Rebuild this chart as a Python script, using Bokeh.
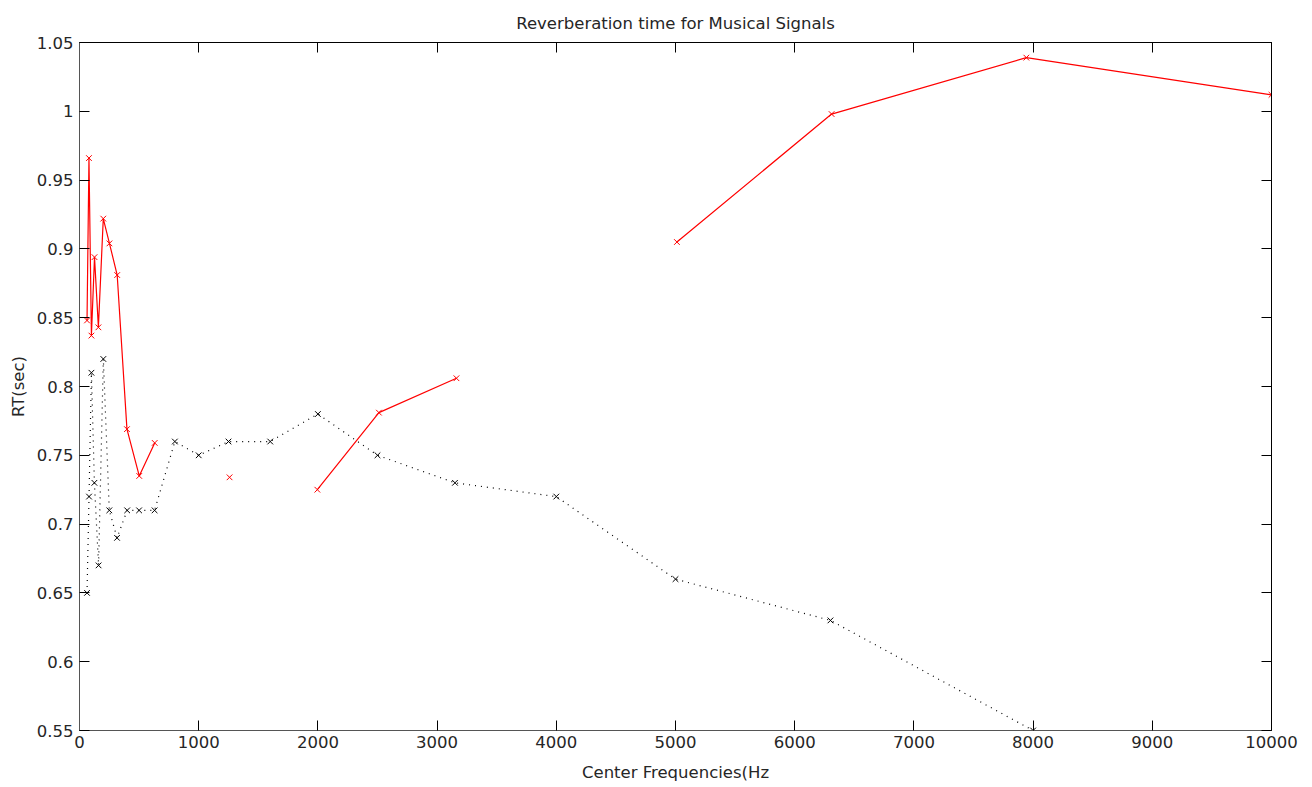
import numpy as np
from bokeh.plotting import figure
from bokeh.models import Range1d, LinearAxis, FixedTicker, ColumnDataSource
from bokeh.embed import file_html
from bokeh.resources import INLINE

# Nominal 1/3-octave centre frequencies (black series)
freq_nominal = [63, 80, 100, 125, 160, 200, 250, 315, 400, 500, 630, 800, 1000,
                1250, 1600, 2000, 2500, 3150, 4000, 5000, 6300, 8000]
rt_black = [0.65, 0.72, 0.81, 0.73, 0.67, 0.82, 0.71, 0.69, 0.71, 0.71, 0.71, 0.76, 0.75,
            0.76, 0.76, 0.78, 0.75, 0.73, 0.72, 0.66, 0.63, 0.55]

# Exact 1/3-octave centre frequencies (red series)
freq_exact = [63.1, 79.4, 100.0, 125.9, 158.5, 199.5, 251.2, 316.2, 398.1, 501.2, 631.0,
              794.3, 1000.0, 1258.9, 1584.9, 1995.3, 2511.9, 3162.3, 3981.1, 5011.9,
              6309.6, 7943.3, 10000.0]
rt_red = [0.848, 0.966, 0.837, 0.894, 0.843, 0.922, 0.904, 0.881, 0.769, 0.735, 0.759,
          np.nan, np.nan, 0.734, np.nan, 0.725, 0.781, 0.806, np.nan, 0.905,
          0.998, 1.039, 1.012]

x_ticks = [0, 1000, 2000, 3000, 4000, 5000, 6000, 7000, 8000, 9000, 10000]
y_ticks = [0.55, 0.6, 0.65, 0.7, 0.75, 0.8, 0.85, 0.9, 0.95, 1.0, 1.05]
y_tick_labels = ["0.55", "0.6", "0.65", "0.7", "0.75", "0.8", "0.85", "0.9", "0.95", "1", "1.05"]

FONT = "DejaVu Sans"
FS = "16.5px"
TXT = "#262626"

p = figure(width=1312, height=787, output_backend="svg", toolbar_location=None,
           x_range=Range1d(0, 10000), y_range=Range1d(0.55, 1.05),
           min_border_left=79, min_border_right=41, min_border_top=42, min_border_bottom=57,
           title="Reverberation time for Musical Signals")
p.title.align = "center"
p.title.text_font = FONT
p.title.text_font_size = FS
p.title.text_font_style = "normal"
p.title.text_color = TXT
p.title.standoff = 19

p.xgrid.visible = False
p.ygrid.visible = False
p.outline_line_color = "black"
p.outline_line_width = 1
p.background_fill_color = "white"
p.border_fill_color = "white"

src_b = ColumnDataSource(dict(x=freq_nominal, y=rt_black))
src_r = ColumnDataSource(dict(x=freq_exact, y=rt_red))

p.line("x", "y", source=src_b, line_color="black", line_width=1.2, line_dash="1 5")
p.scatter("x", "y", source=src_b, marker="x", size=8, line_color="black", line_width=1)

p.line("x", "y", source=src_r, line_color="#ff0000", line_width=1.2)
p.scatter("x", "y", source=src_r, marker="x", size=8, line_color="#ff0000", line_width=1)

xt = FixedTicker(ticks=x_ticks, minor_ticks=[])
yt = FixedTicker(ticks=y_ticks, minor_ticks=[])

for ax in (p.xaxis[0], p.yaxis[0]):
    ax.major_tick_in = 10
    ax.major_tick_out = 0
    ax.minor_tick_in = 0
    ax.minor_tick_out = 0
    ax.major_label_text_font = FONT
    ax.major_label_text_font_size = FS
    ax.major_label_text_color = TXT
    ax.axis_label_text_font = FONT
    ax.axis_label_text_font_size = FS
    ax.axis_label_text_font_style = "normal"
    ax.axis_label_text_color = TXT
    ax.axis_line_color = "#555555"

p.xaxis[0].ticker = xt
p.yaxis[0].ticker = yt
p.yaxis[0].major_label_overrides = {v: s for v, s in zip(y_ticks, y_tick_labels)}
p.xaxis[0].axis_label = "Center Frequencies(Hz"
p.yaxis[0].axis_label = "RT(sec)"
p.xaxis[0].major_label_standoff = 5
p.xaxis[0].axis_label_standoff = 12
p.yaxis[0].major_label_standoff = 6
p.yaxis[0].axis_label_standoff = 6

top = LinearAxis(ticker=FixedTicker(ticks=x_ticks, minor_ticks=[]))
right = LinearAxis(ticker=FixedTicker(ticks=y_ticks, minor_ticks=[]))
for ax in (top, right):
    ax.major_tick_in = 10
    ax.major_tick_out = 0
    ax.minor_tick_in = 0
    ax.minor_tick_out = 0
    ax.major_label_text_font_size = "0px"
    ax.major_label_standoff = 0
    ax.axis_line_color = "black"
p.add_layout(top, "above")
p.add_layout(right, "right")

open("out.html", "w").write(file_html(p, INLINE))
